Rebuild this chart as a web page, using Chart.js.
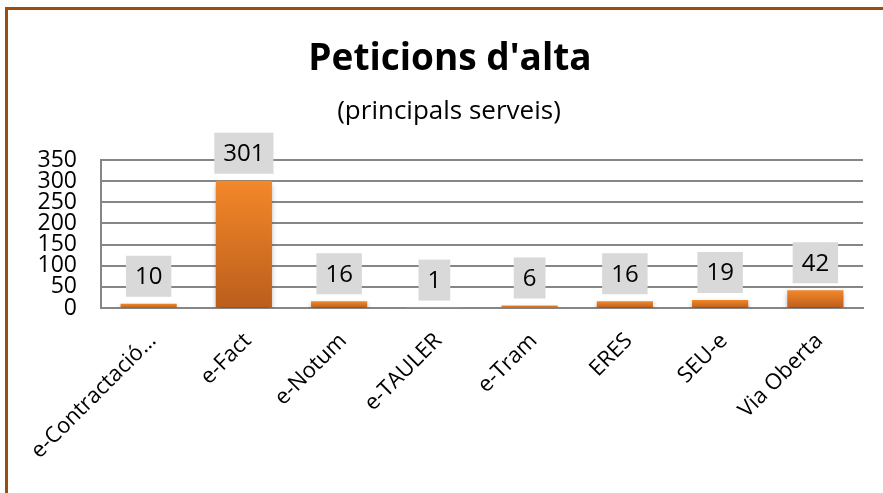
<!DOCTYPE html>
<html>
<head>
<meta charset="utf-8">
<script src="https://cdn.jsdelivr.net/npm/chart.js@4"></script>
<style>
  html, body { margin: 0; padding: 0; background: #fff; }
  #frame { position: absolute; left: 5px; top: 7px; width: 1000px; height: 700px;
           border: 3px solid #9e4c0c; z-index: 0; }
  #wrap { position: absolute; left: 0; top: 0; width: 883px; height: 493px; z-index: 1; }
</style>
</head>
<body>
<div id="frame"></div>
<div id="wrap"><canvas id="myChart" width="883" height="493"></canvas></div>
<script>
// Chart data
const categories = ['e-Contractació…', 'e-Fact', 'e-Notum', 'e-TAULER', 'e-Tram', 'ERES', 'SEU-e', 'Via Oberta'];
const peticions = [10, 301, 16, 1, 6, 16, 19, 42];
const yTicks = [0, 50, 100, 150, 200, 250, 300, 350];
const titleText = "Peticions d'alta";
const subtitleText = '(principals serveis)';

const FONT = "'Open Sans', sans-serif";

// bar gradient, lighter at the top of each bar
function barColor(context) {
  const chart = context.chart;
  if (!chart.chartArea || !chart.scales.y) return '#e0761f';
  const y = chart.scales.y;
  const top = y.getPixelForValue(context.raw);
  const bottom = y.getPixelForValue(0);
  const g = chart.ctx.createLinearGradient(0, top, 0, bottom);
  g.addColorStop(0, '#f3882a');
  g.addColorStop(1, '#bb5e1c');
  return g;
}

// title + subtitle drawn at fixed spots
const headerPlugin = {
  id: 'header',
  afterDraw(chart) {
    const ctx = chart.ctx;
    ctx.save();
    ctx.fillStyle = '#000';
    ctx.textAlign = 'center';
    ctx.textBaseline = 'alphabetic';
    ctx.font = 'bold 37px ' + FONT;
    ctx.fillText(titleText, 450, 70);
    ctx.font = '26px ' + FONT;
    ctx.fillText(subtitleText, 449, 119);
    ctx.restore();
  }
};

// soft shadow under the bars
const shadowPlugin = {
  id: 'barShadow',
  beforeDatasetsDraw(chart) {
    const ctx = chart.ctx;
    ctx.save();
    ctx.shadowColor = 'rgba(0,0,0,0.35)';
    ctx.shadowBlur = 5;
    ctx.shadowOffsetY = 3;
  },
  afterDatasetsDraw(chart) {
    chart.ctx.restore();
  }
};

// grey value boxes above the bars
const valueBoxes = {
  id: 'valueBoxes',
  afterDatasetsDraw(chart) {
    const ctx = chart.ctx;
    const meta = chart.getDatasetMeta(0);
    ctx.save();
    ctx.font = '24px ' + FONT;
    ctx.textAlign = 'center';
    ctx.textBaseline = 'middle';
    meta.data.forEach((bar, i) => {
      const txt = String(peticions[i]);
      const w = ctx.measureText(txt).width + 18;
      const h = 41;
      const bottom = bar.y - 7;
      ctx.fillStyle = '#d9d9d9';
      ctx.fillRect(bar.x - w / 2, bottom - h, w, h);
      ctx.fillStyle = '#000';
      ctx.fillText(txt, bar.x, bottom - h / 2 + 1);
    });
    ctx.restore();
  }
};

const ctx = document.getElementById('myChart').getContext('2d');
new Chart(ctx, {
  type: 'bar',
  data: {
    labels: categories,
    datasets: [{
      label: 'Peticions',
      data: peticions,
      backgroundColor: barColor,
      borderWidth: 0,
      barPercentage: 0.59,
      categoryPercentage: 1
    }]
  },
  options: {
    responsive: false,
    animation: false,
    layout: { padding: { left: 0, right: 20, top: 160, bottom: 0 } },
    plugins: {
      legend: { display: false },
      tooltip: { enabled: false },
      title: { display: false }
    },
    scales: {
      x: {
        grid: { display: false, drawTicks: false },
        border: { display: true, color: '#868686', width: 2 },
        ticks: {
          color: '#000',
          font: { family: FONT, size: 22 },
          minRotation: 45,
          maxRotation: 45,
          autoSkip: false,
          padding: 20,
          labelOffset: 4
        },
        afterFit(scale) { scale.height = 185; }
      },
      y: {
        min: 0,
        max: 350,
        afterBuildTicks(scale) { scale.ticks = yTicks.map(v => ({ value: v })); },
        grid: { color: '#868686', lineWidth: 2, drawTicks: false },
        border: { display: true, color: '#868686', width: 2 },
        ticks: {
          color: '#000',
          font: { family: FONT, size: 23, lineHeight: 1 },
          autoSkip: false,
          padding: 24
        },
        afterFit(scale) { scale.width = 101; }
      }
    }
  },
  plugins: [shadowPlugin, valueBoxes, headerPlugin]
});
</script>
</body>
</html>
